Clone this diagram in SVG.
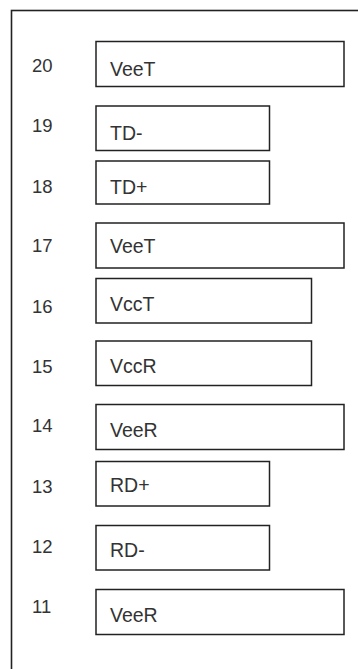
<svg xmlns="http://www.w3.org/2000/svg" width="358" height="669" viewBox="0 0 358 669">
<style>
.frame{fill:none;stroke:#222;stroke-width:1.6}
.box{fill:#fff;stroke:#222;stroke-width:1.5}
.num{font-family:"Liberation Sans",Arial,sans-serif;font-size:18.5px;fill:#333}
.lbl{font-family:"Liberation Sans",Arial,sans-serif;font-size:19.5px;fill:#333}
</style>
<rect width="358" height="669" fill="#fff"/>
<rect class="frame" x="11.5" y="10.5" width="400" height="700"/>
<g id="pin20"><rect class="box" x="96" y="41.5" width="248" height="45"/><text class="num" x="32" y="72">20</text><text class="lbl" x="110" y="76">VeeT</text></g>
<g id="pin19"><rect class="box" x="96" y="106" width="173.5" height="44.5"/><text class="num" x="32" y="132">19</text><text class="lbl" x="110" y="140">TD-</text></g>
<g id="pin18"><rect class="box" x="96" y="161" width="173.5" height="43"/><text class="num" x="32" y="193">18</text><text class="lbl" x="110" y="194">TD+</text></g>
<g id="pin17"><rect class="box" x="96" y="223" width="248" height="45"/><text class="num" x="32" y="252">17</text><text class="lbl" x="110" y="253">VeeT</text></g>
<g id="pin16"><rect class="box" x="96" y="278.5" width="215.5" height="44.5"/><text class="num" x="32" y="313">16</text><text class="lbl" x="110" y="311">VccT</text></g>
<g id="pin15"><rect class="box" x="96" y="341" width="215.5" height="44.5"/><text class="num" x="32" y="373">15</text><text class="lbl" x="110" y="373">VccR</text></g>
<g id="pin14"><rect class="box" x="96" y="404.5" width="248" height="45"/><text class="num" x="32" y="432">14</text><text class="lbl" x="110" y="437">VeeR</text></g>
<g id="pin13"><rect class="box" x="96" y="461.5" width="173.5" height="44.5"/><text class="num" x="32" y="493">13</text><text class="lbl" x="110" y="492">RD+</text></g>
<g id="pin12"><rect class="box" x="96" y="525.5" width="173.5" height="44.5"/><text class="num" x="32" y="553">12</text><text class="lbl" x="110" y="557">RD-</text></g>
<g id="pin11"><rect class="box" x="96" y="589.5" width="248" height="45"/><text class="num" x="32" y="613">11</text><text class="lbl" x="110" y="622">VeeR</text></g>
</svg>
